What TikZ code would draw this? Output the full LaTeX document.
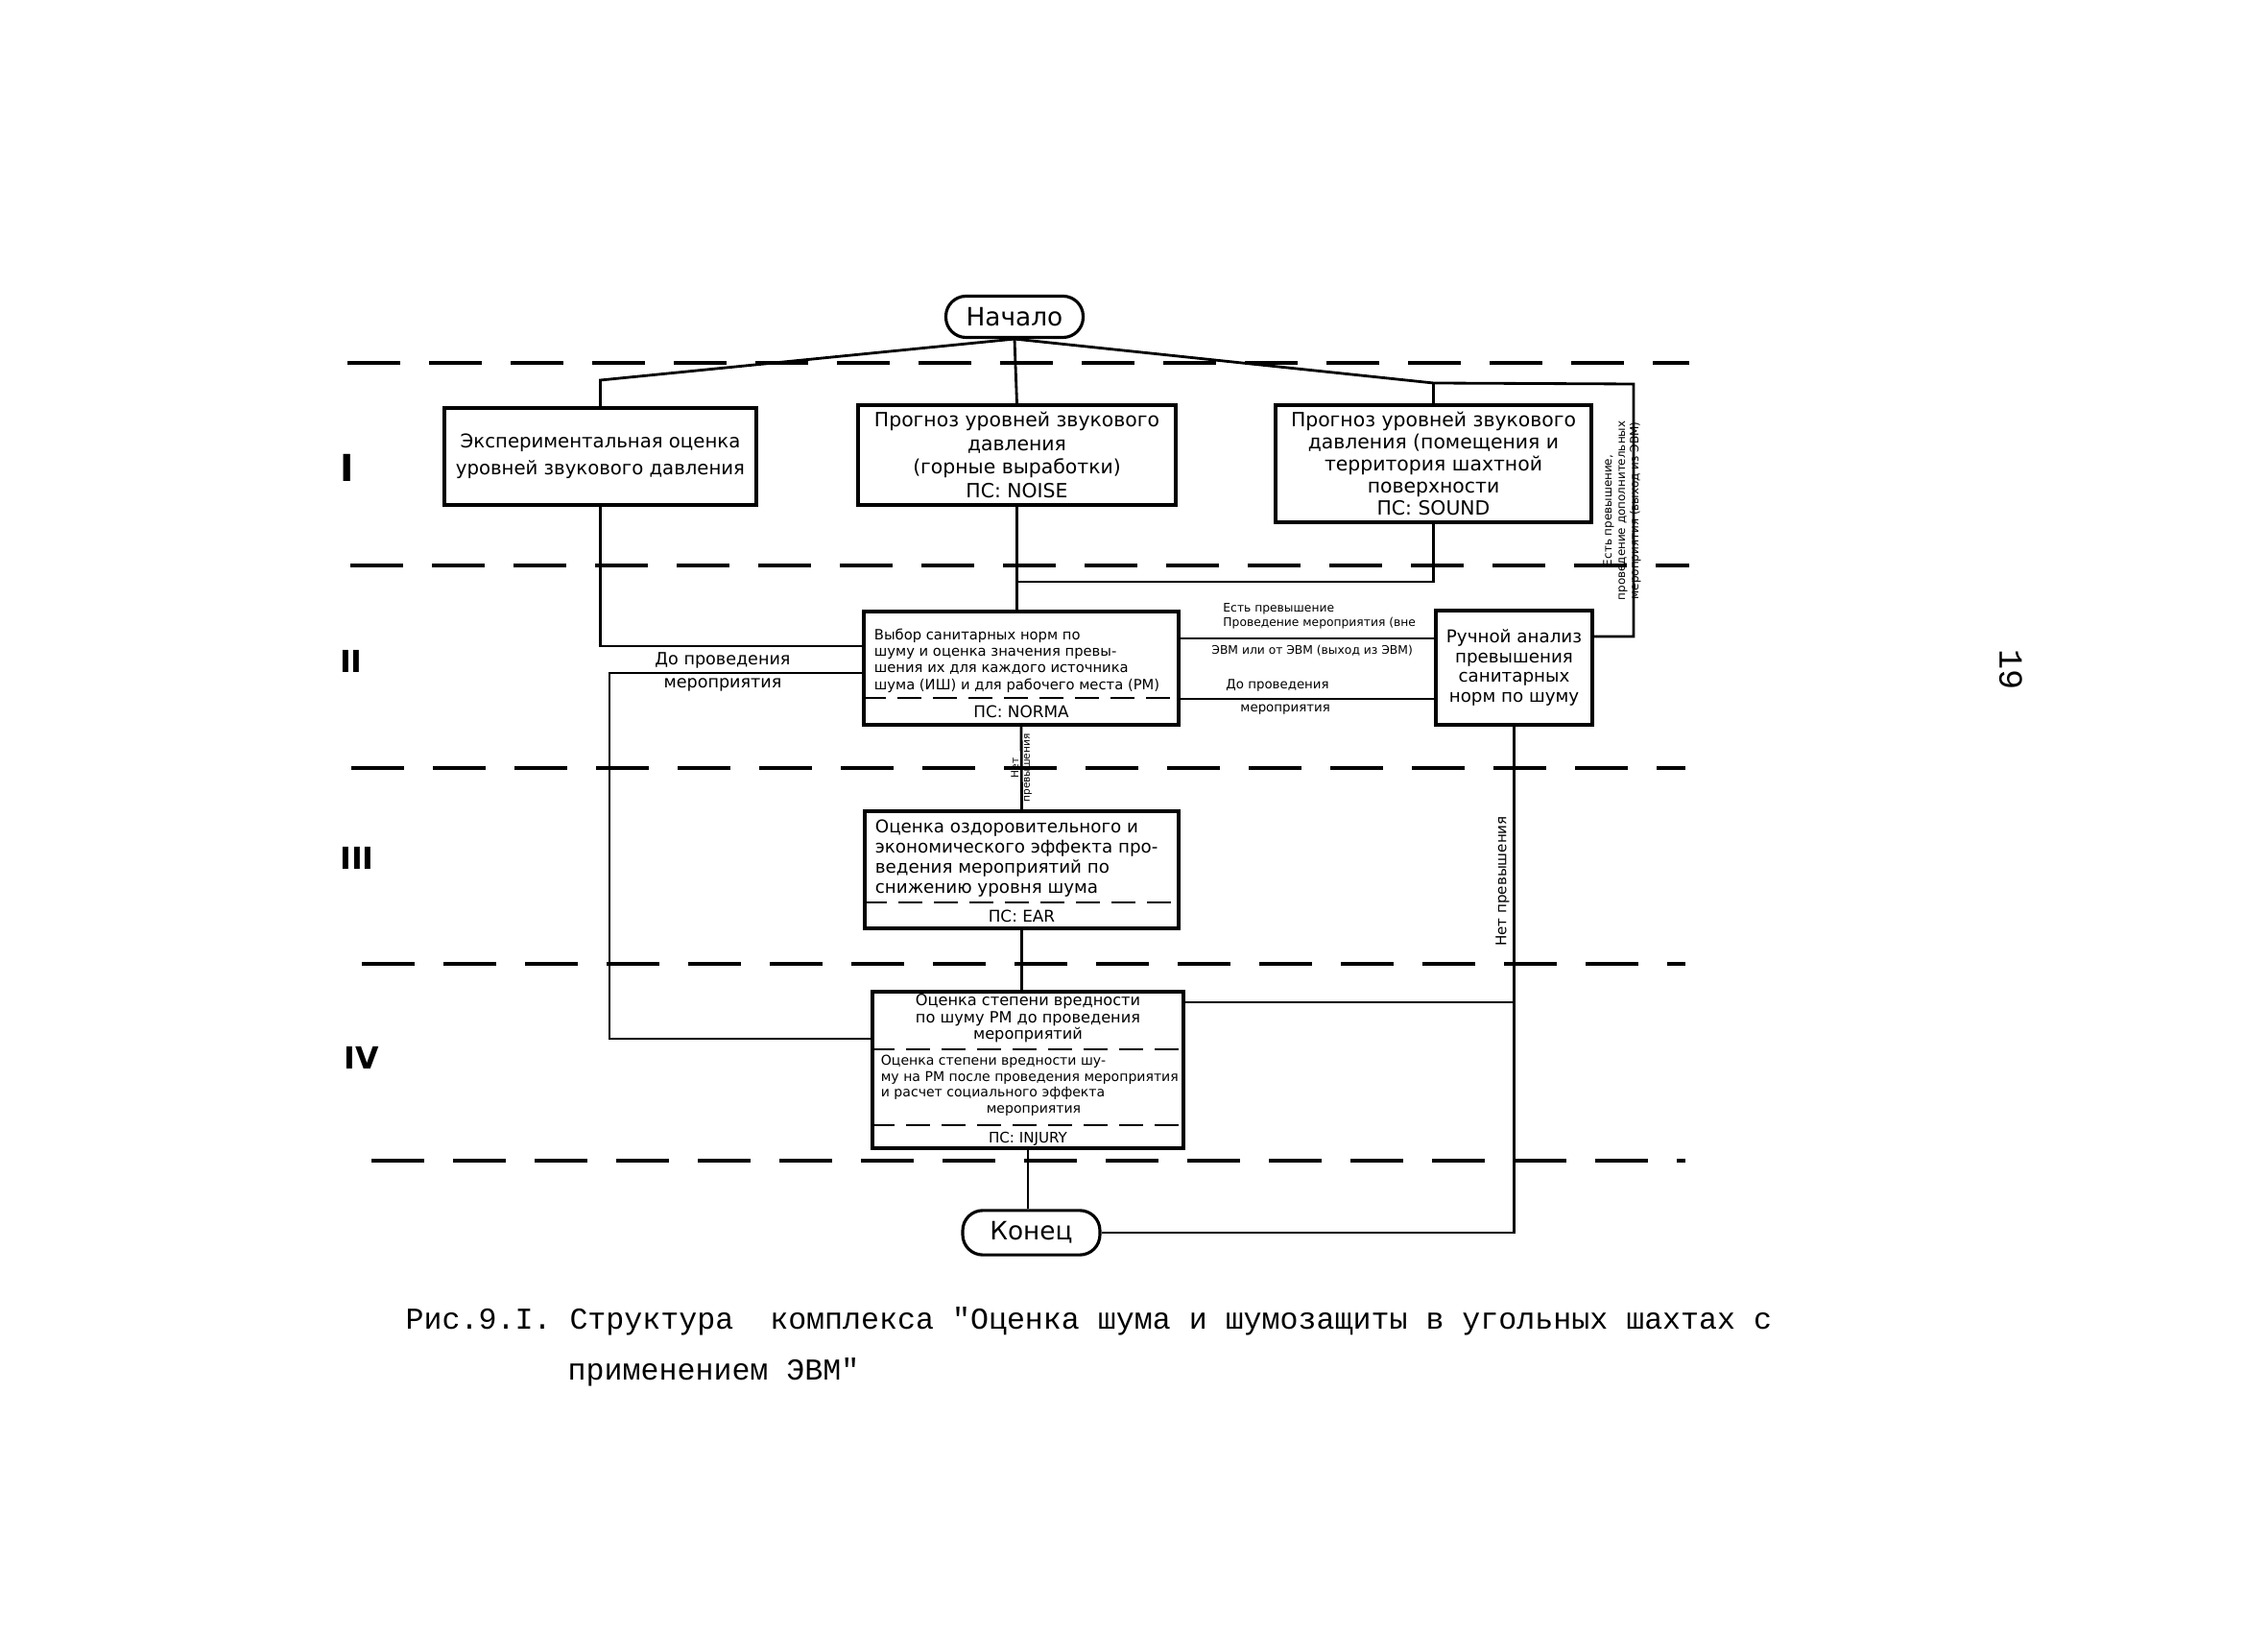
\documentclass[tikz,border=0pt]{standalone}
\usepackage{fontspec}
\setmainfont{DejaVu Sans}
\newfontfamily\capfont{Liberation Mono}
\usetikzlibrary{positioning}

\begin{document}
\begin{tikzpicture}[
    block/.style={draw, line width=0.9pt, align=center, inner sep=1pt},
    term/.style={draw, line width=0.9pt, rounded corners=0.21cm, minimum width=1.43cm, minimum height=0.42cm, font=\fontsize{7.5}{9}\selectfont},
    zone/.style={line width=1.1pt, dash pattern=on 0.55cm off 0.3cm},
    divider/.style={line width=0.8pt, dash pattern=on 0.25cm off 0.12cm},
    link/.style={line width=0.8pt},
    lbl/.style={inner sep=0.5pt, font=\fontsize{4}{4.6}\selectfont},
    level/.style={font=\bfseries\fontsize{9}{10}\selectfont},
]
\useasboundingbox (0,0) rectangle (23.63,-17.01);

% levels
\draw[zone] (3.62,-3.78) -- (17.60,-3.78);
\draw[zone] (3.65,-5.89) -- (17.60,-5.89);
\draw[zone] (3.66,-8.00) -- (17.56,-8.00);
\draw[zone] (3.77,-10.04) -- (17.56,-10.04);
\draw[zone] (3.87,-12.09) -- (17.56,-12.09);
\node[level, font=\bfseries\fontsize{11}{12}\selectfont] (lvlA) at (3.62,-4.87) {I};
\node[level] (lvlB) at (3.66,-6.89) {II};
\node[level] (lvlC) at (3.72,-8.94) {III};
\node[level] (lvlD) at (3.77,-11.02) {IV};

% blocks
\node[term] (start) at (10.57,-3.30) {Начало};
\node[block, minimum width=3.25cm, minimum height=1.01cm, font=\fontsize{5.6}{7.9}\selectfont] (exp) at (6.255,-4.755)
    {Экспериментальная оценка\\уровней звукового давления};
\node[block, minimum width=3.31cm, minimum height=1.04cm, font=\fontsize{5.8}{7}\selectfont] (noise) at (10.595,-4.74)
    {Прогноз уровней звукового\\давления\\(горные выработки)\\ПС: NOISE};
\node[block, minimum width=3.29cm, minimum height=1.22cm, font=\fontsize{5.8}{6.6}\selectfont] (sound) at (14.935,-4.83)
    {Прогноз уровней звукового\\давления (помещения и\\территория шахтной\\поверхности\\ПС: SOUND};

\node[block, minimum width=3.28cm, minimum height=1.18cm] (norm) at (10.64,-6.96) {};
\node[lbl, font=\fontsize{4.2}{4.9}\selectfont, align=left, below right=0.17cm and 0.1cm of norm.north west] (normT)
    {Выбор санитарных норм по\\шуму и оценка значения превы-\\шения их для каждого источника\\шума (ИШ) и для рабочего места (РМ)};
\draw[divider] (norm.west |- 0,-7.27) -- (norm.east |- 0,-7.27);
\node[lbl, font=\fontsize{4.8}{5}\selectfont, above=0.06cm of norm.south] (normPS) {ПС: NORMA};

\node[block, minimum width=1.63cm, minimum height=1.19cm, font=\fontsize{5.2}{5.8}\selectfont] (manual) at (15.775,-6.955)
    {Ручной анализ\\превышения\\санитарных\\норм по шуму};

\node[block, minimum width=3.27cm, minimum height=1.22cm] (effect) at (10.645,-9.06) {};
\node[lbl, font=\fontsize{5.2}{6}\selectfont, align=left, below right=0.08cm and 0.1cm of effect.north west] (effectT)
    {Оценка оздоровительного и\\экономического эффекта про-\\ведения мероприятий по\\снижению уровня шума};
\draw[divider] (effect.west |- 0,-9.40) -- (effect.east |- 0,-9.40);
\node[lbl, font=\fontsize{4.8}{5}\selectfont, above=0.05cm of effect.south] (effectPS) {ПС: EAR};

\node[block, minimum width=3.24cm, minimum height=1.63cm] (injury) at (10.71,-11.145) {};
\node[lbl, font=\fontsize{4.6}{4.9}\selectfont, align=center, below=0.02cm of injury.north] (injuryA)
    {Оценка степени вредности\\по шуму РМ до проведения\\мероприятий};
\draw[divider] (injury.west |- 0,-10.93) -- (injury.east |- 0,-10.93);
\node[lbl, font=\fontsize{4}{4.7}\selectfont, align=left, anchor=north west] (injuryB) at ([xshift=0.08cm]injury.west |- 0,-10.97)
    {Оценка степени вредности шу-\\му на РМ после проведения мероприятия\\и расчет социального эффекта\\\hspace*{1.1cm}мероприятия};
\draw[divider] (injury.west |- 0,-11.72) -- (injury.east |- 0,-11.72);
\node[lbl, font=\fontsize{4.3}{4.5}\selectfont, above=0.02cm of injury.south] (injuryPS) {ПС: INJURY};

\node[term] (end) at (10.745,-12.84) {Конец};

% connectors
\coordinate (fl) at (6.30,-3.96);
\coordinate (fm) at (14.94,-3.99);
\coordinate (fr) at (17.02,-4.00);
\coordinate (rb) at (17.02,-6.63);
\draw[link] (start.south) -- (exp.north |- fl) -- (exp.north);
\draw[link] (start.south) -- (noise.north);
\draw[link] (start.south) -- (sound.north |- fm) -- (fr) -- (rb) -- (manual.east |- rb);
\draw[link] (sound.north) -- (sound.north |- fm);
\node[lbl, rotate=90, align=center, font=\fontsize{3.4}{4}\selectfont] (excR) at (16.90,-5.32)
    {Есть превышение,\\проведение дополнительных\\мероприятия (выход из ЭВМ)};

\coordinate (mj) at (0,-6.06);
\draw[link] (noise.south) -- (noise.south |- norm.north);
\draw[link] (sound.south) |- (noise.south |- mj);

\coordinate (la) at (0,-6.73);
\coordinate (lb) at (0,-7.01);
\coordinate (lc) at (6.35,-10.82);
\draw[link] (exp.south) |- (norm.west |- la);
\draw[link] (norm.west |- lb) -| (lc) -- (injury.west |- lc);
\node[lbl, font=\fontsize{5}{5.5}\selectfont] (befL) at (7.53,-6.88) {До проведения};
\node[lbl, font=\fontsize{5}{5.5}\selectfont] (befL2) at (7.53,-7.13) {мероприятия};

\coordinate (ua) at (0,-6.65);
\coordinate (ub) at (0,-7.28);
\draw[link] (norm.east |- ua) -- (manual.west |- ua);
\draw[link] (norm.east |- ub) -- (manual.west |- ub);
\node[lbl, anchor=south west, align=left, font=\fontsize{3.5}{4.3}\selectfont] (excA) at (12.72,-6.58)
    {Есть превышение\\Проведение мероприятия (вне};
\node[lbl, anchor=north west, font=\fontsize{3.5}{4.3}\selectfont] (excB) at (12.60,-6.70) {ЭВМ или от ЭВМ (выход из ЭВМ)};
\node[lbl, anchor=south west, font=\fontsize{3.8}{4.5}\selectfont] (befA) at (12.75,-7.23) {До проведения};
\node[lbl, anchor=north west, font=\fontsize{3.8}{4.5}\selectfont] (befB) at (12.90,-7.32) {мероприятия};

\draw[link] (norm.south) -- node[lbl, rotate=90, align=center, font=\fontsize{3}{3.4}\selectfont] (noExc) {Нет\\превышения} (effect.north);
\draw[link] (effect.south) -- (effect.south |- injury.north);
\draw[link] (injury.south) -- (injury.south |- end.north);

\coordinate (ld) at (0,-10.44);
\draw[link] (injury.east |- ld) -- (manual.south |- ld);
\draw[link] (manual.south) |- (end.east);
\node[lbl, rotate=90, anchor=south, font=\fontsize{4.3}{5}\selectfont] (noExc2) at (15.75,-9.18) {Нет превышения};

% page number and caption
\node[rotate=-90, font=\capfont\fontsize{10}{12}\selectfont] (pagenum) at (20.95,-6.98) {19};
\node[anchor=west, inner sep=0pt, font=\capfont\fontsize{9}{11}\selectfont] (capA) at (4.22,-13.76)
    {Рис.9.I. Структура~ комплекса "Оценка шума и шумозащиты в угольных шахтах с};
\node[anchor=west, inner sep=0pt, font=\capfont\fontsize{9}{11}\selectfont] (capB) at (5.91,-14.29) {применением ЭВМ"};
\end{tikzpicture}
\end{document}
